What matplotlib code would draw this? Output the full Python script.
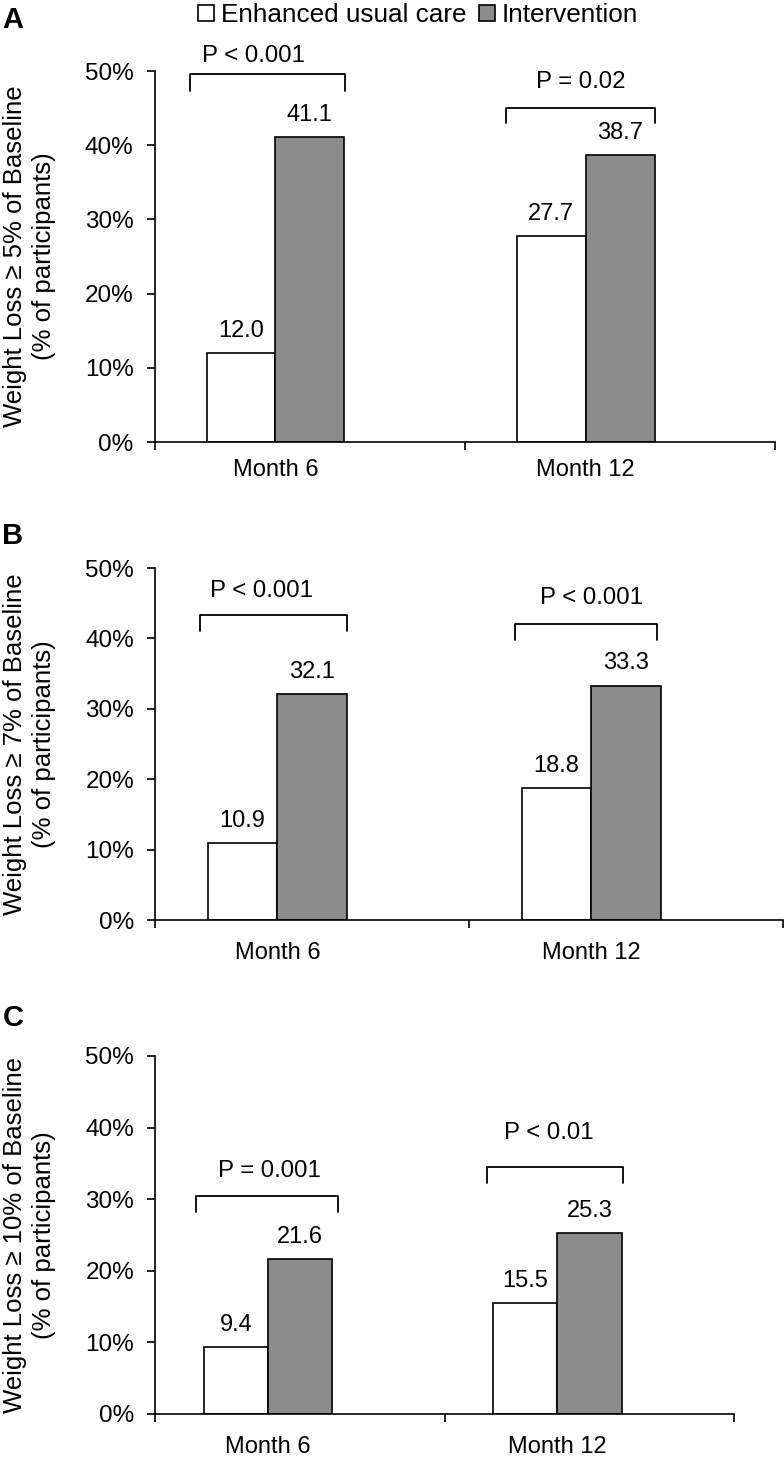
import matplotlib
matplotlib.use('Agg')
import matplotlib.pyplot as plt
from matplotlib.ticker import FixedLocator

plt.rcParams['font.family'] = ['Liberation Sans', 'DejaVu Sans']

# ---------------- data ----------------
categories = ['Month 6', 'Month 12']
series_names = ['Enhanced usual care', 'Intervention']
usual_5 = [12.0, 27.7]
interv_5 = [41.1, 38.7]
usual_7 = [10.9, 18.8]
interv_7 = [32.1, 33.3]
usual_10 = [9.4, 15.5]
interv_10 = [21.6, 25.3]
p_values_5 = ['P < 0.001', 'P = 0.02']
p_values_7 = ['P < 0.001', 'P < 0.001']
p_values_10 = ['P = 0.001', 'P < 0.01']
thresholds = ['5%', '7%', '10%']
panel_letters = ['A', 'B', 'C']
y_ticks = [0, 10, 20, 30, 40, 50]
y_tick_labels = ['0%', '10%', '20%', '30%', '40%', '50%']

# ---------------- layout ----------------
W, H = 784, 1463
FS = 17
FS_P = 17.3
colors = ['white', '#8c8c8c']
bar_w = 0.222
xlim = (-0.39, 1.61)

# axes rect in pixels: left, right, top, bottom
panel_rects = [(154.5, 775, 71, 442), (155, 783, 568, 920), (155, 734, 1056, 1414)]
month_pad = [12, 16, 16]
# bracket specs: (left offset, right offset, top y, end y, text x offset, text y)
bracket_specs = [
    [(-0.2755, 0.2233, 49.6, 47.3, -0.072, 52.0), (-0.2556, 0.2233, 45.05, 43.0, -0.016, 48.5)],
    [(-0.248, 0.220, 43.3, 41.1, -0.05, 46.7), (-0.242, 0.210, 42.0, 39.8, 0.0, 45.7)],
    [(-0.249, 0.242, 30.4, 28.2, 0.007, 33.9), (-0.242, 0.225, 34.5, 32.3, -0.03, 39.2)],
]
letter_y = [20, 536, 1018]

panels = [(usual_5, interv_5, p_values_5), (usual_7, interv_7, p_values_7),
          (usual_10, interv_10, p_values_10)]

fig = plt.figure(figsize=(W / 100, H / 100), dpi=100)

handles = None
for i, ((u, iv, pv), rect, brs) in enumerate(zip(panels, panel_rects, bracket_specs)):
    l, r, t, b = rect
    ax = fig.add_axes([l / W, 1 - b / H, (r - l) / W, (b - t) / H])
    x = list(range(len(categories)))
    b1 = ax.bar([xi - bar_w / 2 for xi in x], u, width=bar_w, color=colors[0],
                edgecolor='black', linewidth=1.2, label=series_names[0])
    b2 = ax.bar([xi + bar_w / 2 for xi in x], iv, width=bar_w, color=colors[1],
                edgecolor='black', linewidth=1.2, label=series_names[1])
    if handles is None:
        handles = [b1, b2]
    for bars, vals in ((b1, u), (b2, iv)):
        for rect_, v in zip(bars, vals):
            ax.annotate(f'{v:.1f}', (rect_.get_x() + rect_.get_width() / 2, v),
                        xytext=(0, 8), textcoords='offset points',
                        ha='center', va='bottom', fontsize=FS)
    ax.set_xlim(*xlim)
    ax.set_ylim(0, 50)
    ax.set_yticks(y_ticks)
    ax.set_yticklabels(y_tick_labels, fontsize=17.5)
    ax.set_xticks(x)
    ax.set_xticklabels(categories, fontsize=FS)
    ax.tick_params(axis='x', which='major', length=0, pad=month_pad[i])
    ax.xaxis.set_minor_locator(FixedLocator([xlim[0], (xlim[0] + xlim[1]) / 2, xlim[1]]))
    ax.tick_params(axis='x', which='minor', length=6, width=1.2, direction='out')
    ax.tick_params(axis='y', length=6, width=1.2, direction='out', pad=9)
    for s in ('top', 'right'):
        ax.spines[s].set_visible(False)
    for s in ('left', 'bottom'):
        ax.spines[s].set_linewidth(1.2)
    # significance brackets
    for xi, (x0, x1, yt, ye, tx, ty), ptxt in zip(x, brs, pv):
        ax.plot([xi + x0, xi + x0, xi + x1, xi + x1], [ye, yt, yt, ye], color='black',
                lw=1.3, clip_on=False, solid_joinstyle='round', solid_capstyle='round')
        ax.text(xi + tx, ty, ptxt, ha='center', va='center', fontsize=FS_P, clip_on=False)
    # y labels
    yc = 1 - (t + b) / 2 / H
    fig.text(15 / W, yc, f'Weight Loss \u2265 {thresholds[i]} of Baseline', rotation=90,
             ha='center', va='center', fontsize=18.5)
    fig.text(44 / W, yc, '(% of participants)', rotation=90,
             ha='center', va='center', fontsize=18.5)
    fig.text(13 / W, 1 - letter_y[i] / H, panel_letters[i], ha='center', va='center',
             fontsize=21, fontweight='bold')

fig.legend(handles, series_names, loc='center', bbox_to_anchor=(418 / W, 1 - 15 / H),
           ncol=2, frameon=False, fontsize=18.8, handlelength=0.6, handleheight=0.6,
           handletextpad=0.25, columnspacing=0.5, borderaxespad=0, borderpad=0)

fig.savefig('out.png', dpi=100)
